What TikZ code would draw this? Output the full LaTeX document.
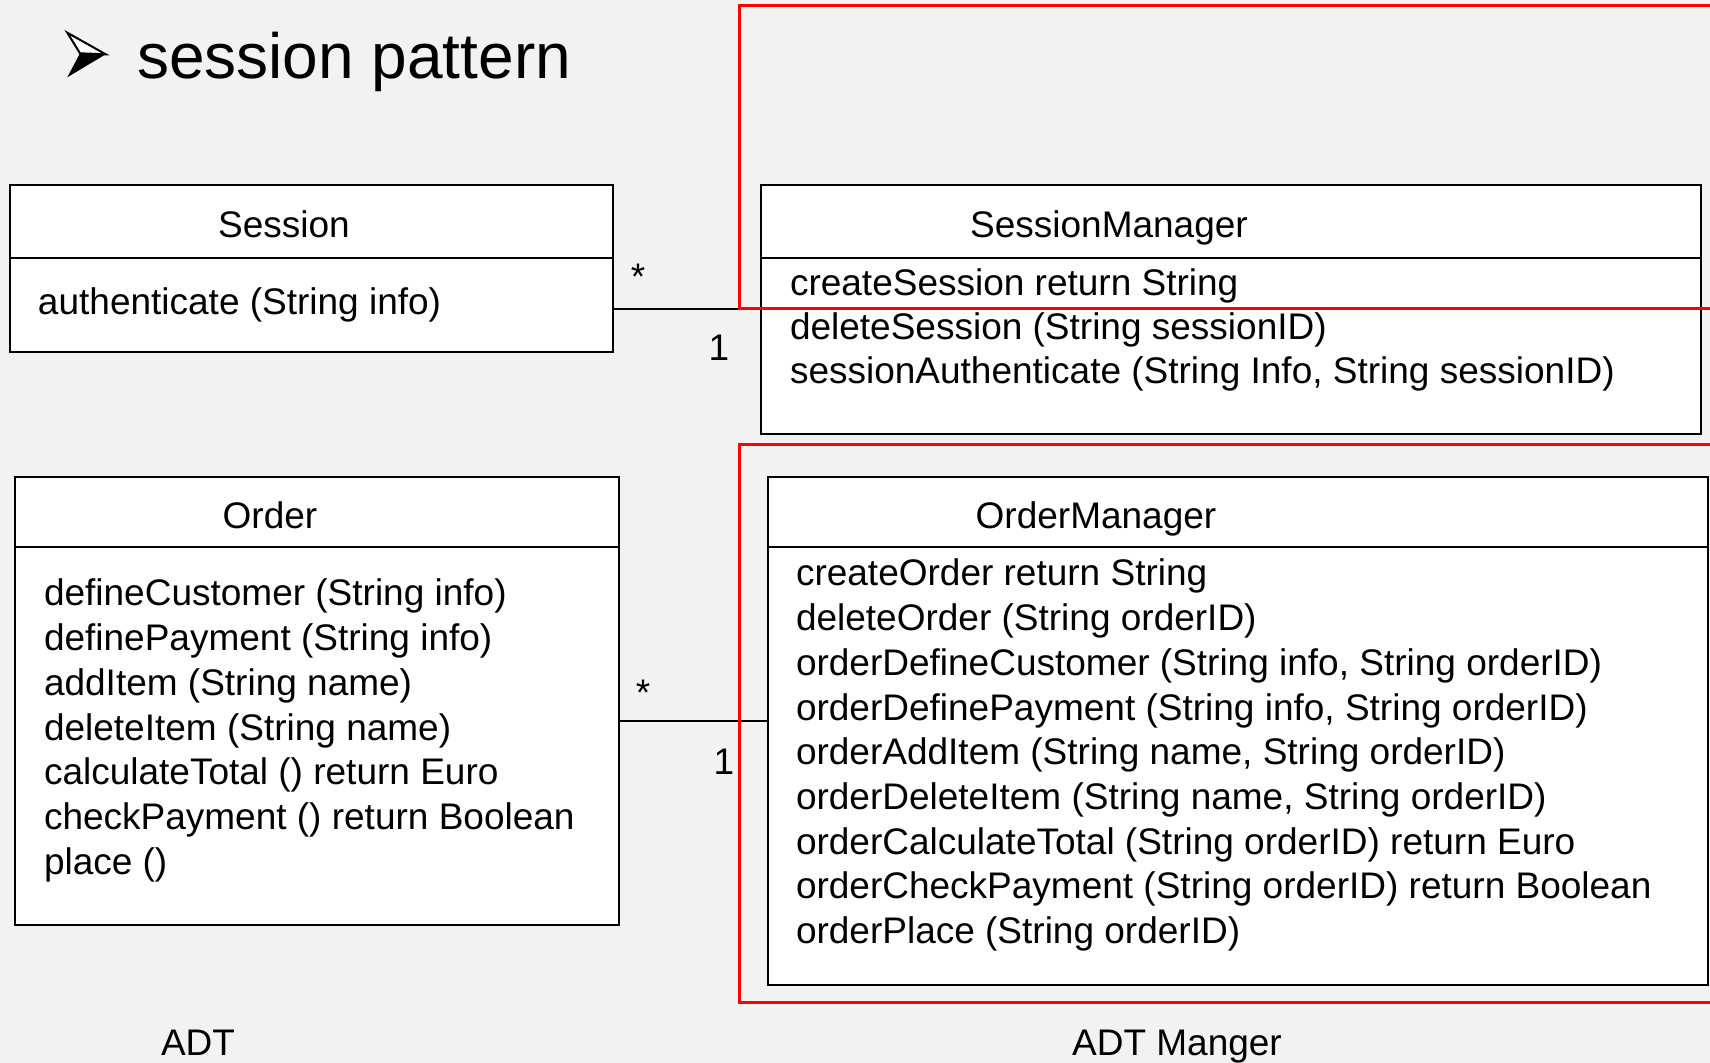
\documentclass[tikz,border=0pt]{standalone}
\usepackage{fontspec}
\setmainfont{Liberation Sans}
\usetikzlibrary{calc}
\definecolor{pagebg}{HTML}{F2F2F2}
\definecolor{framered}{HTML}{FF0000}
\tikzset{
  classbox/.style={draw=black, fill=white, line width=1pt, inner sep=0pt, outer sep=0pt, anchor=north west},
  boxline/.style={draw=black, line width=1pt},
  assoc/.style={draw=black, line width=1pt},
  groupframe/.style={draw=framered, line width=1.5pt},
  txt/.style={inner sep=0pt, outer sep=0pt, anchor=base west, font=\fontsize{18.5pt}{22pt}\selectfont},
  ctxt/.style={txt, anchor=base},
  mult/.style={ctxt},
}
\begin{document}
\begin{tikzpicture}[x=0.5pt, y=-0.5pt]
  % page
  \fill[pagebg] (0,0) rectangle (1710,1063);
  \useasboundingbox (0,0) rectangle (1710,1063);
  \clip (0,0) rectangle (1710,1063);

  % heading with arrowhead bullet
  \fill[black] (80,53.3) -- (105.7,54.3) -- (67.3,77.3) -- cycle;
  \filldraw[fill=white, draw=black, line width=1pt, line join=miter] (67.3,32.7) -- (105.7,54.3) -- (80,53.3) -- cycle;
  \node[txt, font=\fontsize{32pt}{38pt}\selectfont] (title) at (137,79) {session pattern};

  % class boxes
  \node[classbox, minimum width=301.5pt, minimum height=83.5pt] (session) at (10,185) {};
  \node[classbox, minimum width=470pt, minimum height=124.5pt] (smgr) at (761,185) {};
  \node[classbox, minimum width=302pt, minimum height=224pt] (order) at (15,477) {};
  \node[classbox, minimum width=470pt, minimum height=254pt] (omgr) at (768,477) {};

  % compartment dividers
  \coordinate (sdiv) at (0,258);
  \coordinate (odiv) at (0,547);
  \draw[boxline] (session.west |- sdiv) -- (session.east |- sdiv);
  \draw[boxline] (smgr.west |- sdiv) -- (smgr.east |- sdiv);
  \draw[boxline] (order.west |- odiv) -- (order.east |- odiv);
  \draw[boxline] (omgr.west |- odiv) -- (omgr.east |- odiv);

  % Session
  \node[ctxt] (sessionname) at (284,238) {Session};
  \node[txt] (sessionop) at (38,315) {authenticate (String info)};

  % SessionManager
  \node[ctxt] (smgrname) at (1109,238) {SessionManager};
  \node[txt] (smgrop1) at (790,296) {createSession return String};
  \node[txt] (smgrop2) at (790,340) {deleteSession (String sessionID)};
  \node[txt] (smgrop3) at (790,384) {sessionAuthenticate (String Info, String sessionID)};

  % Order
  \node[ctxt] (ordername) at (270,529) {Order};
  \node[txt] (orderop1) at (44,606) {defineCustomer (String info)};
  \node[txt] (orderop2) at (44,650.7) {definePayment (String info)};
  \node[txt] (orderop3) at (44,695.4) {addItem (String name)};
  \node[txt] (orderop4) at (44,740.1) {deleteItem (String name)};
  \node[txt] (orderop5) at (44,784.8) {calculateTotal () return Euro};
  \node[txt] (orderop6) at (44,829.5) {checkPayment () return Boolean};
  \node[txt] (orderop7) at (44,874.2) {place ()};

  % OrderManager
  \node[ctxt] (omgrname) at (1096,529) {OrderManager};
  \node[txt] (omgrop1) at (796,586) {createOrder return String};
  \node[txt] (omgrop2) at (796,630.7) {deleteOrder (String orderID)};
  \node[txt] (omgrop3) at (796,675.4) {orderDefineCustomer (String info, String orderID)};
  \node[txt] (omgrop4) at (796,720.1) {orderDefinePayment (String info, String orderID)};
  \node[txt] (omgrop5) at (796,764.8) {orderAddItem (String name, String orderID)};
  \node[txt] (omgrop6) at (796,809.5) {orderDeleteItem (String name, String orderID)};
  \node[txt] (omgrop7) at (796,854.2) {orderCalculateTotal (String orderID) return Euro};
  \node[txt] (omgrop8) at (796,898.9) {orderCheckPayment (String orderID) return Boolean};
  \node[txt] (omgrop9) at (796,943.6) {orderPlace (String orderID)};

  % associations with multiplicities
  \coordinate (slink) at (0,309);
  \coordinate (olink) at (0,721);
  \draw[assoc] (session.east |- slink) -- (smgr.west |- slink);
  \draw[assoc] (order.east |- olink) -- (omgr.west |- olink);
  \node[mult] (smany) at (638,290) {*};
  \node[mult] (sone) at (719,361) {1};
  \node[mult] (omany) at (643,706) {*};
  \node[mult] (oone) at (724,775) {1};

  % highlight frames
  \draw[groupframe] (1720,309) -- (739,309) -- (739,5.5) -- (1720,5.5);
  \draw[groupframe] (1720,1003) -- (739,1003) -- (739,445) -- (1720,445);

  % column captions
  \node[ctxt] (adt) at (198,1056) {ADT};
  \node[ctxt] (adtmgr) at (1177,1056) {ADT Manger};
\end{tikzpicture}
\end{document}
